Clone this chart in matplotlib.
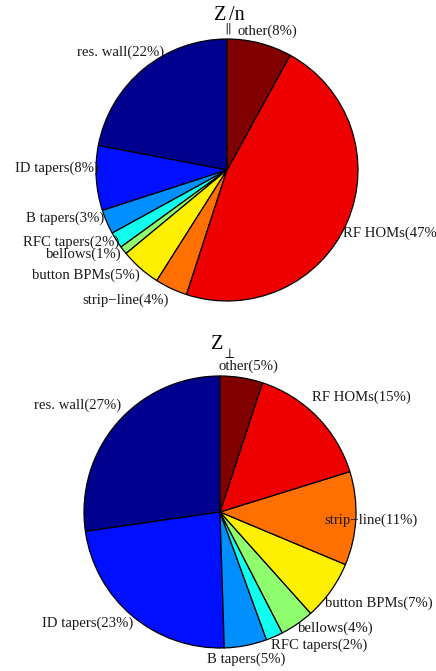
import numpy as np
import matplotlib
matplotlib.use('Agg')
import matplotlib.pyplot as plt

plt.rcParams['font.family'] = ['Liberation Serif', 'DejaVu Serif']
plt.rcParams['mathtext.fontset'] = 'stix'

# MATLAB pie order: counterclockwise from 12 o'clock
names = ['res. wall', 'ID tapers', 'B tapers', 'RFC tapers', 'bellows',
         'button BPMs', 'strip\u2212line', 'RF HOMs', 'other']
z_long = [22, 8, 3, 2, 1, 5, 4, 47, 8]
z_trans = [27, 23, 5, 2, 4, 7, 11, 15, 5]

# jet(64) rows 1, 9, 17, ..., 64 as MATLAB picks them for CData 1..9
colors = [(0, 0, 0.5625), (0, 0.0625, 1), (0, 0.5625, 1), (0.0625, 1, 0.9375),
          (0.5625, 1, 0.4375), (1, 0.9375, 0), (1, 0.4375, 0), (0.9375, 0, 0),
          (0.5, 0, 0)]

# label placement tweaks (degrees off the slice middle, radius factor)
nudge_long = [2.4, -4.3, -6.9, -7.6, -7.2, -11.9, -12.8, 2.4, -1.8]
rfac_long = [1.21, 1.30, 1.29, 1.31, 1.27, 1.34, 1.26, 1.35, 1.10]
nudge_trans = [3.9, -10, -0.9, 12.9, 10.4, 5.6, -0.3, -5.6, -1.9]
rfac_trans = [1.31, 1.27, 1.10, 1.22, 1.21, 1.35, 1.11, 1.34, 1.09]

W, H = 436, 671
fig = plt.figure(figsize=(W / 100, H / 100), dpi=100)
ax = fig.add_axes([0, 0, 1, 1])


def draw_pie(vals, center, R, nudges, rfacs):
    ax.pie(vals, colors=colors, startangle=90, counterclock=True,
           center=center, radius=R,
           wedgeprops=dict(edgecolor='black', linewidth=0.9))
    tot = float(sum(vals))
    cum = np.cumsum([0] + vals[:-1])
    for i, v in enumerate(vals):
        ang = np.deg2rad(90 + (cum[i] + v / 2) / tot * 360 + nudges[i])
        r = rfacs[i] * R
        ax.text(center[0] + r * np.cos(ang), center[1] + r * np.sin(ang),
                '%s(%d%%)' % (names[i], v), ha='center', va='center',
                fontsize=10.6, color='#1a1a1a')


draw_pie(z_long, (227, H - 170), 131, nudge_long, rfac_long)
draw_pie(z_trans, (220, H - 512), 136, nudge_trans, rfac_trans)

# titles: Z with a low subscript, as MATLAB's tex interpreter draws it
ax.text(226, H - 19.5, 'Z', ha='right', va='baseline', fontsize=14.5)
ax.text(227.5, H - 32, r'$\parallel$', ha='center', va='baseline', fontsize=9.5)
ax.text(229, H - 19.5, '/n', ha='left', va='baseline', fontsize=14.5)

ax.text(223, H - 349, 'Z', ha='right', va='baseline', fontsize=14.5)
ax.text(228, H - 358, r'$\perp$', ha='center', va='baseline', fontsize=10)

ax.set_xlim(0, W)
ax.set_ylim(0, H)
ax.set_aspect('equal')
ax.axis('off')

plt.savefig('out.png', dpi=100)
